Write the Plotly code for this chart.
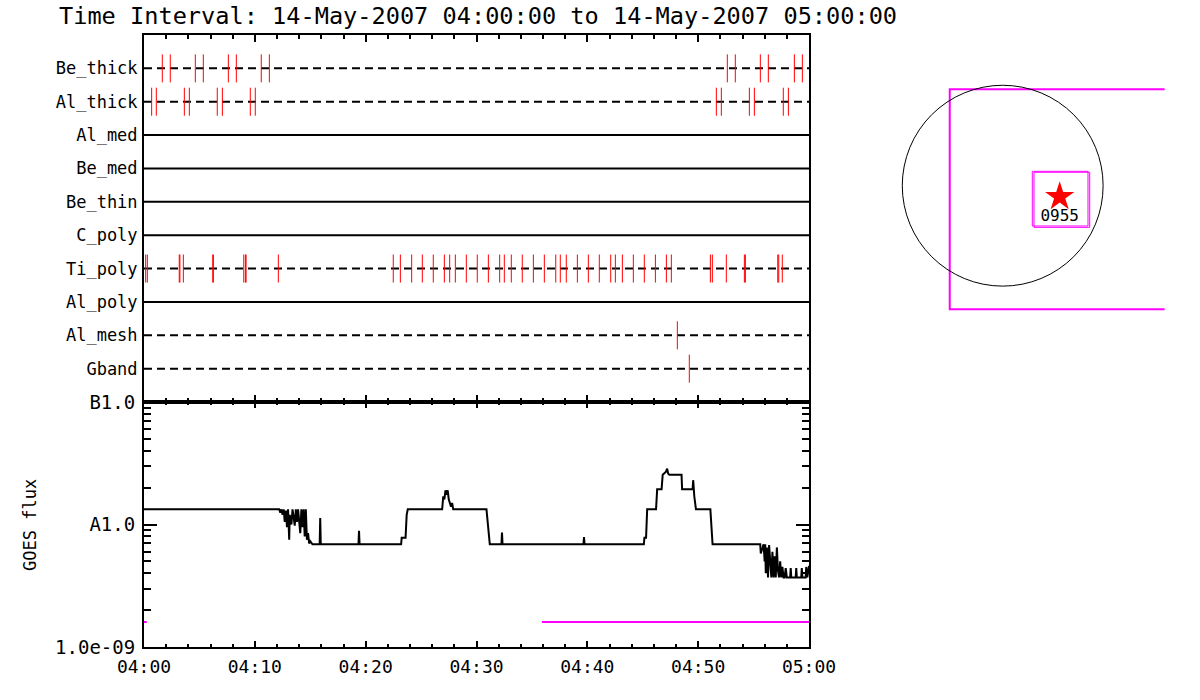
import plotly.graph_objects as go
import pandas as pd

# ---------------- data ----------------
title_text = "Time Interval: 14-May-2007 04:00:00 to 14-May-2007 05:00:00"
base_time = pd.Timestamp("2007-05-14 04:00:00")

filters = ["Be_thick", "Al_thick", "Al_med", "Be_med", "Be_thin",
           "C_poly", "Ti_poly", "Al_poly", "Al_mesh", "Gband"]
filter_dashed = [True, True, False, False, False, False, True, False, True, True]

# exposure times (minutes after 04:00) per filter
exp_be_thick = [1.65, 2.37, 4.63, 5.35, 7.61, 8.33, 10.58, 11.31,
                52.63, 53.35, 55.61, 56.33, 58.68, 59.40]
exp_al_thick = [0.69, 1.11, 3.64, 4.09, 6.61, 7.07, 9.59, 10.04,
                51.64, 52.09, 54.62, 55.07, 57.68, 58.14]
exp_ti_poly = [0.15, 0.30, 3.18, 3.24, 3.55, 6.20, 6.26, 9.00, 9.15, 9.21, 12.12,
               22.49, 23.13, 24.15, 25.11, 26.10, 27.10, 27.58, 28.09, 29.08,
               30.07, 31.07, 32.09, 32.51, 33.14, 34.13, 35.13, 36.12, 37.15,
               37.56, 38.10, 39.10, 40.09, 41.08, 42.11, 42.53, 43.16, 44.15,
               45.14, 46.14, 47.13, 47.58, 51.10, 51.28, 52.54, 54.17, 54.26,
               57.18, 57.27, 57.59]
exp_al_mesh = [48.12]
exp_gband = [49.20]
exposures = {"Be_thick": exp_be_thick, "Al_thick": exp_al_thick,
             "Ti_poly": exp_ti_poly, "Al_mesh": exp_al_mesh, "Gband": exp_gband}

# GOES flux (minutes after 04:00, W/m^2)
goes_t = [0.0, 12.2, 12.3, 12.4, 12.5, 12.6, 12.7, 12.8, 12.9, 13.0, 13.1, 13.15,
          13.3, 13.4, 13.5, 13.6, 13.7, 13.8, 13.9, 14.0, 14.1, 14.2, 14.3, 14.4,
          14.5, 14.6, 14.7, 14.8, 14.9, 15.0, 15.2, 15.85, 15.9, 15.95, 19.35,
          19.4, 19.45, 23.2, 23.25, 23.6, 23.7, 23.8, 26.9, 26.95, 27.0, 27.1,
          27.2, 27.3, 27.4, 27.5, 27.6, 27.7, 27.8, 27.9, 30.9, 31.0, 31.1, 31.2,
          32.25, 32.3, 32.35, 39.65, 39.7, 39.75, 45.1, 45.15, 45.3, 45.4, 46.2,
          46.3, 46.7, 46.8, 47.1, 47.2, 47.3, 47.4, 48.5, 48.55, 49.5, 49.55,
          49.65, 49.8, 51.1, 51.2, 51.3, 55.6, 55.65, 55.9, 56.0, 56.05, 56.1,
          56.2, 56.3, 56.4, 56.5, 56.6, 56.7, 56.8, 56.9, 57.0, 57.1, 57.2, 57.3,
          57.4, 57.5, 57.6, 57.7, 57.8, 57.9, 58.0, 58.3, 58.35, 58.4, 58.8,
          58.85, 58.9, 59.3, 59.35, 59.4, 59.7, 59.75, 59.85, 60.0]
goes_f = [1.33e-8, 1.33e-8, 1.25e-8, 1.33e-8, 1.2e-8, 1.33e-8, 1.05e-8, 1.3e-8,
          9.5e-9, 1.33e-8, 7.5e-9, 1.2e-8, 1.0e-8, 1.33e-8, 1.15e-8, 9.8e-9,
          1.33e-8, 1.05e-8, 1.33e-8, 1.1e-8, 8.5e-9, 1.33e-8, 9.5e-9, 1.33e-8,
          8.0e-9, 1.33e-8, 7.5e-9, 8.5e-9, 7.0e-9, 7.3e-9, 6.9e-9, 6.9e-9,
          1.13e-8, 6.9e-9, 6.9e-9, 8.9e-9, 6.9e-9, 6.9e-9, 7.8e-9, 7.8e-9,
          1.2e-8, 1.33e-8, 1.33e-8, 1.5e-8, 1.7e-8, 1.6e-8, 1.9e-8, 1.75e-8,
          1.9e-8, 1.6e-8, 1.5e-8, 1.4e-8, 1.5e-8, 1.33e-8, 1.33e-8, 1.1e-8,
          8.0e-9, 6.9e-9, 6.9e-9, 8.6e-9, 6.9e-9, 6.9e-9, 7.9e-9, 6.9e-9,
          6.9e-9, 7.8e-9, 7.8e-9, 1.33e-8, 1.33e-8, 1.94e-8, 1.94e-8, 2.55e-8,
          2.7e-8, 2.86e-8, 2.6e-8, 2.55e-8, 2.55e-8, 1.94e-8, 1.94e-8, 2.3e-8,
          1.7e-8, 1.33e-8, 1.33e-8, 9.0e-9, 6.9e-9, 6.9e-9, 5.8e-9, 6.9e-9,
          5.0e-9, 6.9e-9, 4.0e-9, 6.5e-9, 3.7e-9, 6.8e-9, 4.5e-9, 3.7e-9,
          6.0e-9, 3.7e-9, 5.5e-9, 3.7e-9, 6.5e-9, 4.2e-9, 3.7e-9, 5.0e-9,
          3.7e-9, 4.5e-9, 3.7e-9, 3.7e-9, 4.4e-9, 3.7e-9, 3.7e-9, 4.4e-9,
          3.7e-9, 3.7e-9, 4.4e-9, 3.7e-9, 3.7e-9, 4.4e-9, 3.7e-9, 3.7e-9,
          4.5e-9, 3.7e-9, 4.6e-9]

# magenta data-coverage segments (minutes, flux level)
cov_seg1_t = [0.0, 0.25]
cov_seg2_t = [35.9, 60.0]
cov_level = 1.6e-9

# y tick labels of GOES panel
goes_tickvals = [1e-9, 1e-8, 1e-7]
goes_ticktext = ["1.0e-09", "A1.0", "B1.0"]
goes_minor = [m * d for d in (1e-9, 1e-8) for m in range(2, 10)]

# context map (arcsec)
sun_radius = 950
fov_x = [1532, -501, -501, 1532]
fov_y = [912, 912, -1169, -1169]
boxA_x = [280, 807, 807, 280, 280]
boxA_y = [136, 136, -381, -381, 136]
boxB_x = [296, 823, 823, 296, 296]
boxB_y = [127, 127, -394, -394, 127]
event_x = [539]
event_y = [-104]
event_label = ["0955"]
label_y = [-300]


# ---------------- figure ----------------
def to_time(mins):
    return [None if m is None else base_time + pd.Timedelta(minutes=m) for m in mins]


FONT = "DejaVu Sans Mono"
fig = go.Figure()

# filter rows
for i, name in enumerate(filters):
    row = i + 1
    fig.add_trace(go.Scatter(
        x=to_time([0.0, 60.0]), y=[row, row], mode="lines",
        line=dict(color="black", width=2, dash="8px,5px" if filter_dashed[i] else "solid"),
        xaxis="x", yaxis="y", showlegend=False, hoverinfo="skip"))

tick_half = 0.42
for i, name in enumerate(filters):
    if name not in exposures:
        continue
    row = i + 1
    xs, ys = [], []
    for t in exposures[name]:
        xs += [t, t, None]
        ys += [row - tick_half, row + tick_half, None]
    fig.add_trace(go.Scatter(
        x=to_time(xs), y=ys, mode="lines", line=dict(color="red", width=1),
        xaxis="x", yaxis="y", showlegend=False, hoverinfo="skip", connectgaps=False))

# GOES flux
fig.add_trace(go.Scatter(
    x=to_time(goes_t), y=goes_f, mode="lines", line=dict(color="black", width=2),
    xaxis="x2", yaxis="y2", showlegend=False))
for seg in (cov_seg1_t, cov_seg2_t):
    fig.add_trace(go.Scatter(
        x=to_time(seg), y=[cov_level] * len(seg), mode="lines",
        line=dict(color="#ff00ff", width=2), xaxis="x2", yaxis="y2",
        showlegend=False, cliponaxis=False))

# context map
fig.add_shape(type="circle", xref="x3", yref="y3",
              x0=-sun_radius, y0=-sun_radius, x1=sun_radius, y1=sun_radius,
              line=dict(color="black", width=1))
fig.add_trace(go.Scatter(x=fov_x, y=fov_y, mode="lines",
                         line=dict(color="#ff00ff", width=2),
                         xaxis="x3", yaxis="y3", showlegend=False))
for bx, by in ((boxA_x, boxA_y), (boxB_x, boxB_y)):
    fig.add_trace(go.Scatter(x=bx, y=by, mode="lines",
                             line=dict(color="#ff00ff", width=1),
                             xaxis="x3", yaxis="y3", showlegend=False))
fig.add_trace(go.Scatter(x=event_x, y=event_y, mode="markers",
                         marker=dict(symbol="star", size=22, color="red",
                                     line=dict(width=0)),
                         xaxis="x3", yaxis="y3", showlegend=False))
fig.add_trace(go.Scatter(x=event_x, y=label_y, mode="text", text=event_label,
                         textfont=dict(family=FONT, size=16, color="black"),
                         xaxis="x3", yaxis="y3", showlegend=False))

W, H = 1200, 700
px_x = lambda p: p / W
px_y = lambda p: 1 - p / H

xdom = [px_x(144), px_x(809)]
t_range = [base_time, base_time + pd.Timedelta(minutes=60)]

common_x = dict(type="date", range=t_range, domain=xdom, showline=True,
                linecolor="black", linewidth=2, mirror="ticks", ticks="inside",
                tickcolor="black", tickwidth=2, ticklen=7, dtick=600000,
                tick0=base_time, showgrid=False, zeroline=False, automargin=False,
                minor=dict(ticks="inside", dtick=120000, tick0=base_time,
                           ticklen=4, tickwidth=2, tickcolor="black", showgrid=False))

# map axes: 9.46 arcsec per screen pixel, disc centre at screen (1002.7, 185.7)
asec_px = 9.46
cx, cy = 1002.7, 185.7
map_left, map_right = 840, 1200
map_top, map_bottom = 0, 700

fig.update_layout(
    width=W, height=H, margin=dict(l=0, r=0, t=0, b=0, pad=0, autoexpand=False),
    paper_bgcolor="white", plot_bgcolor="white",
    font=dict(family=FONT, color="black"),
    xaxis=dict(**common_x, anchor="y", showticklabels=False),
    yaxis=dict(domain=[px_y(402), px_y(35)], range=[11, 0], anchor="x",
               tickmode="array", tickvals=list(range(1, 11)), ticktext=filters,
               ticks="", showline=True, linecolor="black", linewidth=2,
               mirror=True, showgrid=False, zeroline=False, automargin=False,
               tickfont=dict(family=FONT, size=17), ticklabelstandoff=1),
    xaxis2=dict(**{**common_x, "ticklen": 6, "minor": dict(ticks="inside", dtick=120000,
                                                              tick0=base_time, ticklen=3,
                                                              tickwidth=2, tickcolor="black",
                                                              showgrid=False)},
                anchor="y2", showticklabels=True, tickformat="%H:%M",
                tickfont=dict(family=FONT, size=18), ticklabelstandoff=2),
    yaxis2=dict(domain=[px_y(647), px_y(402)], type="log", range=[-9, -7],
                anchor="x2", tickmode="array", tickvals=goes_tickvals,
                ticktext=goes_ticktext, ticks="inside", ticklen=13, tickwidth=1.5,
                tickcolor="black", showline=True, linecolor="black", linewidth=2,
                mirror="ticks", showgrid=False, zeroline=False, automargin=False,
                tickfont=dict(family=FONT, size=19), ticklabelstandoff=3,
                minor=dict(ticks="inside", tickmode="array", tickvals=goes_minor,
                           ticklen=7, tickwidth=1.5, tickcolor="black", showgrid=False)),
    xaxis3=dict(domain=[px_x(map_left), px_x(map_right)],
                range=[(map_left - cx) * asec_px, (map_right - cx) * asec_px],
                visible=False, anchor="y3", automargin=False),
    yaxis3=dict(domain=[px_y(map_bottom), px_y(map_top)],
                range=[(cy - map_bottom) * asec_px, (cy - map_top) * asec_px],
                visible=False, anchor="x3", automargin=False),
)

fig.add_annotation(text=title_text, xref="paper", yref="paper",
                   x=px_x(57), y=px_y(16), xanchor="left", yanchor="middle",
                   showarrow=False, font=dict(family=FONT, size=23.6, color="black"))
fig.add_annotation(text="GOES flux", xref="paper", yref="paper",
                   x=px_x(30), y=px_y(525), xanchor="center", yanchor="middle",
                   textangle=-90, showarrow=False,
                   font=dict(family=FONT, size=17, color="black"))

# remove the browser's default page margin so the graph sits at the window origin
fig.write_html("out.html", config={"displayModeBar": False},
               post_script="document.body.style.margin='0';")
